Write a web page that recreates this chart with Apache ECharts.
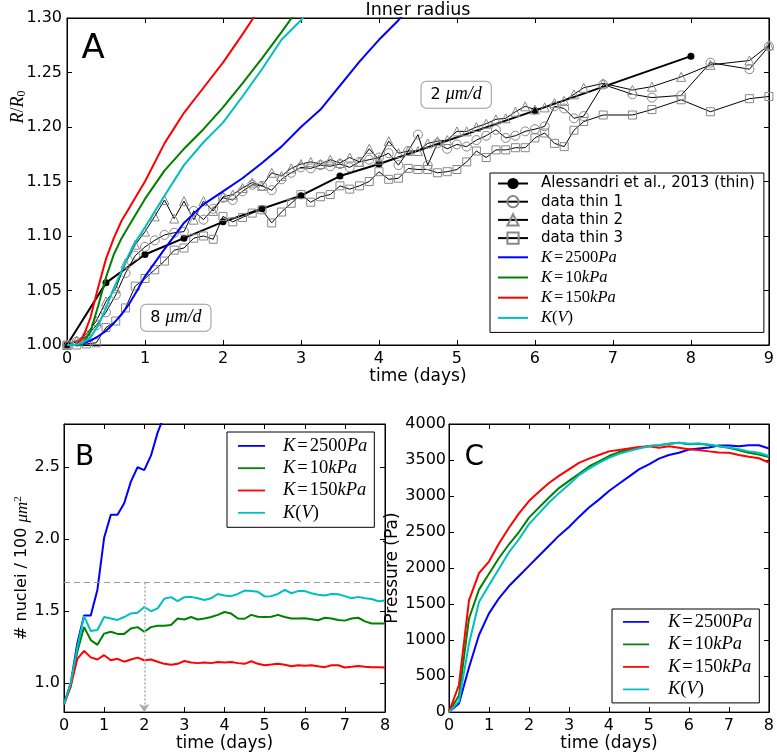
<!DOCTYPE html>
<html><head><meta charset="utf-8">
<script src="https://cdn.jsdelivr.net/npm/echarts/dist/echarts.min.js"></script>
<style>html,body{margin:0;padding:0;background:#fff}#c{width:777px;height:753px}</style>
</head><body><div id="c"></div>
<script>
// ---------- DATA ----------
// Panel A: Alessandri et al. 2013 (thin)
const alessT = [0, 0.5, 1, 1.5, 2, 2.5, 3, 3.5, 4, 6, 8];
const alessV = [1.000, 1.057, 1.083, 1.098, 1.113, 1.125, 1.137, 1.155, 1.166, 1.215, 1.265];
// Panel A: raw data (thin capsules)
const thinT = [0,0.125,0.25,0.375,0.5,0.625,0.75,0.875,1,1.125,1.25,1.375,1.5,1.625,1.75,1.875,
  2,2.125,2.25,2.375,2.5,2.625,2.75,2.875,3,3.125,3.25,3.375,3.5,3.625,3.75,3.875,
  4,4.125,4.25,4.375,4.5,4.625,4.75,4.875,5,5.125,5.25,5.375,5.5,5.625,5.75,5.875,6,
  6.125,6.25,6.375,6.5,6.625,6.875,7.25,7.5,7.875,8.25,8.75,9];
const thin1 = [1.000,1.003,1.008,1.018,1.030,1.046,1.066,1.082,1.090,1.096,1.101,1.103,1.104,1.123,1.115,1.125,
  1.135,1.133,1.141,1.147,1.146,1.142,1.152,1.158,1.163,1.162,1.165,1.164,1.166,1.163,1.168,1.170,
  1.172,1.176,1.165,1.178,1.193,1.165,1.185,1.180,1.184,1.182,1.188,1.192,1.1975,1.190,1.192,1.196,1.198,
  1.2006,1.219,1.217,1.208,1.210,1.239,1.230,1.227,1.229,1.259,1.253,1.274];
const thin2 = [1.000,1.004,1.010,1.022,1.040,1.052,1.075,1.092,1.104,1.118,1.133,1.116,1.132,1.115,1.132,1.123,
  1.136,1.138,1.144,1.149,1.146,1.158,1.155,1.162,1.166,1.168,1.166,1.170,1.167,1.172,1.168,1.180,
  1.170,1.187,1.176,1.178,1.178,1.185,1.187,1.188,1.196,1.196,1.200,1.203,1.207,1.208,1.214,1.219,1.216,
  1.218,1.222,1.224,1.230,1.236,1.240,1.234,1.237,1.246,1.257,1.261,1.275];
const thin3 = [1.000,1.000,1.001,1.002,1.016,1.022,1.034,1.054,1.061,1.069,1.077,1.087,1.089,1.098,1.100,1.097,
  1.118,1.113,1.117,1.121,1.124,1.112,1.122,1.130,1.138,1.131,1.136,1.138,1.146,1.143,1.146,1.150,
  1.159,1.152,1.153,1.162,1.161,1.161,1.158,1.159,1.161,1.168,1.178,1.172,1.179,1.179,1.181,1.181,1.190,
  1.1945,1.185,1.182,1.197,1.205,1.211,1.211,1.216,1.225,1.214,1.226,1.228];
// Panel A: model curves
const modelT = [0,0.1,0.2,0.3,0.4,0.5,0.6,0.7,0.8,0.9,1.0,1.25,1.5,1.75,2.0,2.25,2.5,2.75,3.0,3.25,3.5,3.75,4.0,4.25,4.5];
const radBlue  = [1.0,1.0,1.001,1.004,1.008,1.013,1.020,1.028,1.038,1.050,1.063,1.088,1.112,1.129,1.141,1.153,1.167,1.182,1.200,1.216,1.238,1.260,1.280,1.298,1.320];
const radGreen = [1.0,1.0,1.001,1.012,1.036,1.062,1.083,1.098,1.110,1.122,1.134,1.160,1.180,1.198,1.218,1.240,1.263,1.287,1.312];
const radRed   = [1.0,1.0,1.006,1.025,1.053,1.079,1.098,1.114,1.126,1.138,1.150,1.185,1.213,1.236,1.259,1.285,1.312];
const radCyan  = [1.0,1.0,1.002,1.007,1.018,1.034,1.052,1.068,1.084,1.097,1.108,1.137,1.165,1.186,1.204,1.228,1.253,1.280,1.298,1.320];
// Panel B: nuclei density
const densT = [0,0.167,0.333,0.5,0.667,0.833,1,1.167,1.333,1.5,1.667,1.833,2,2.167,2.333,2.5,2.667,2.833,
  3,3.167,3.333,3.5,3.667,3.833,4,4.167,4.333,4.5,4.667,4.833,5,5.167,5.333,5.5,5.667,5.833,
  6,6.167,6.333,6.5,6.667,6.833,7,7.167,7.333,7.5,7.667,7.833,8];
const densBlue  = [0.856,1.0,1.28,1.47,1.47,1.65,2.01,2.17,2.17,2.25,2.40,2.50,2.48,2.58,2.74,2.86];
const densGreen = [0.856,0.98,1.22,1.39,1.30,1.267,1.345,1.358,1.343,1.343,1.38,1.39,1.358,1.39,1.40,1.40,1.405,1.45,
  1.443,1.46,1.443,1.45,1.46,1.475,1.495,1.484,1.45,1.448,1.475,1.462,1.46,1.462,1.475,1.46,1.45,1.45,
  1.452,1.445,1.438,1.455,1.45,1.44,1.435,1.45,1.455,1.43,1.415,1.415,1.415];
const densRed   = [0.856,0.98,1.17,1.225,1.18,1.165,1.195,1.16,1.17,1.15,1.165,1.178,1.16,1.165,1.15,1.135,1.128,1.135,
  1.155,1.145,1.14,1.145,1.14,1.148,1.145,1.148,1.14,1.135,1.153,1.135,1.125,1.13,1.135,1.128,1.118,1.125,
  1.122,1.125,1.118,1.112,1.125,1.125,1.11,1.115,1.12,1.115,1.112,1.112,1.11];
const densCyan  = [0.856,1.0,1.25,1.466,1.363,1.37,1.46,1.45,1.44,1.46,1.485,1.49,1.53,1.50,1.52,1.587,1.598,1.57,
  1.598,1.60,1.59,1.578,1.59,1.62,1.61,1.605,1.62,1.644,1.64,1.635,1.603,1.605,1.62,1.648,1.625,1.64,
  1.64,1.625,1.615,1.61,1.62,1.618,1.605,1.59,1.60,1.59,1.585,1.57,1.575];
const refLevelB = 1.7, refTimeB = 2;
// Panel C: pressure
const presT = [0,0.25,0.5,0.75,1,1.25,1.5,1.75,2,2.25,2.5,2.75,3,3.25,3.5,3.75,4,4.25,4.5,4.75,5,5.25,5.5,5.75,6,6.25,6.5,6.75,7,7.25,7.5,7.75,8];
const presBlue  = [0,120,620,1070,1370,1580,1750,1890,2030,2170,2310,2450,2570,2710,2840,2950,3070,3170,3270,3370,3440,3520,3570,3600,3645,3660,3675,3700,3700,3690,3705,3705,3660];
const presGreen = [0,230,1300,1700,1920,2140,2330,2500,2700,2840,2980,3110,3210,3310,3410,3480,3555,3610,3640,3665,3695,3705,3725,3740,3720,3725,3710,3690,3670,3635,3600,3575,3540];
const presRed   = [0,380,1550,1930,2090,2340,2560,2760,2930,3060,3180,3280,3370,3460,3520,3570,3620,3640,3660,3680,3690,3670,3690,3670,3650,3640,3620,3605,3600,3570,3545,3525,3465];
const presCyan  = [0,150,950,1530,1760,1990,2220,2400,2610,2760,2910,3040,3160,3290,3380,3460,3530,3585,3625,3660,3695,3705,3725,3740,3725,3730,3715,3690,3675,3650,3620,3600,3555];
// Annotations (data coords)
const annotTexts = ['2', '8'];
const annotAt = [[4.99, 1.2296], [1.395, 1.025]];

const names = ['Alessandri et al., 2013 (thin)', 'data thin 1', 'data thin 2', 'data thin 3', 'K=2500Pa', 'K=10kPa', 'K=150kPa', 'K(V)'];
const modelNames = names.slice(4);

// ---------- STYLE ----------
const SANS = 'DejaVu Sans', SERIF = 'Liberation Serif';
const COL = ['#0000ff', '#008000', '#ff0000', '#00bfbf'];
const LINE_ICON = 'path://M0,0 L30,0 L30,2 L0,2 Z';

function pairs(ts, vs) { const o = []; for (let i = 0; i < vs.length; i++) if (vs[i] != null) o.push([ts[i], vs[i]]); return o; }

function xAx(g, max, pos, extra) {
  return Object.assign({
    gridIndex: g, type: 'value', min: 0, max: max, interval: 1, position: pos,
    axisLine: { show: true, onZero: false, lineStyle: { color: '#000', width: 1 } },
    axisTick: { show: true, inside: true, length: 5, lineStyle: { color: '#000' } },
    splitLine: { show: false },
    axisLabel: { show: pos === 'bottom', color: '#000', fontFamily: SANS, fontSize: 16, margin: 6 },
    nameTextStyle: { color: '#000', fontFamily: SANS, fontSize: 17 }
  }, extra || {});
}
function yAx(g, pos, extra, labelExtra) {
  const ax = Object.assign({
    gridIndex: g, type: 'value', position: pos,
    axisLine: { show: true, onZero: false, lineStyle: { color: '#000', width: 1 } },
    axisTick: { show: true, inside: true, length: 5, lineStyle: { color: '#000' } },
    splitLine: { show: false },
    nameTextStyle: { color: '#000', fontFamily: SANS, fontSize: 17 }
  }, extra || {});
  ax.axisLabel = Object.assign({ show: pos === 'left', color: '#000', fontFamily: SANS, fontSize: 16, margin: 5 }, labelExtra || {});
  return ax;
}
const bTicks = [1.0, 1.5, 2.0, 2.5];

const mathRich = (fs, lh, pad) => ({
  k0: { fontFamily: SERIF, fontStyle: 'italic', fontSize: fs, lineHeight: lh, padding: [0, 0, 0, pad], color: '#000' },
  k: { fontFamily: SERIF, fontStyle: 'italic', fontSize: fs, lineHeight: lh, color: '#000' },
  n: { fontFamily: SERIF, fontSize: fs, lineHeight: lh, color: '#000' },
  e: { fontFamily: SERIF, fontSize: fs, lineHeight: lh, padding: [0, 2, 0, 2], color: '#000' },
  t: { fontFamily: SANS, fontSize: 15, lineHeight: lh, padding: [0, 0, 0, pad], color: '#000' }
});
const mathName = {
  'K=2500Pa': '{k0|K}{e|=}{n|2500}{k|Pa}',
  'K=10kPa': '{k0|K}{e|=}{n|10}{k|kPa}',
  'K=150kPa': '{k0|K}{e|=}{n|150}{k|kPa}',
  'K(V)': '{k0|K}{n|(}{k|V}{n|)}'
};
const fmt = name => mathName[name] || ('{t|' + name + '}');
const legendItems = list => list.map(n => mathName[n] ? { name: n, icon: LINE_ICON } : { name: n });

function lineSeries(name, xi, data, color, extra) {
  return Object.assign({
    name: name, type: 'line', xAxisIndex: xi, yAxisIndex: xi, data: data,
    symbol: 'none', lineStyle: { color: color, width: 2 }, itemStyle: { color: color },
    clip: true, animation: false, z: 3
  }, extra || {});
}
function thinSeries(name, data, sym, size) {
  return {
    name: name, type: 'line', xAxisIndex: 0, yAxisIndex: 0, data: data, symbol: sym, symbolSize: size,
    showAllSymbol: true, lineStyle: { color: '#000', width: 1 },
    itemStyle: { color: 'rgba(255,255,255,0)', borderColor: '#888', borderWidth: 1 },
    clip: true, animation: false, z: 2
  };
}

const series = [
  lineSeries(names[0], 0, pairs(alessT, alessV), '#000', { symbol: 'circle', symbolSize: 7, showAllSymbol: true, lineStyle: { color: '#000', width: 2 }, z: 2 }),
  thinSeries(names[1], pairs(thinT, thin1), 'circle', 9),
  thinSeries(names[2], pairs(thinT, thin2), 'triangle', 9),
  thinSeries(names[3], pairs(thinT, thin3), 'rect', 8),
  lineSeries(modelNames[0], 0, pairs(modelT, radBlue), COL[0]),
  lineSeries(modelNames[1], 0, pairs(modelT, radGreen), COL[1]),
  lineSeries(modelNames[2], 0, pairs(modelT, radRed), COL[2]),
  lineSeries(modelNames[3], 0, pairs(modelT, radCyan), COL[3], {
    markPoint: {
      silent: true, symbol: 'circle', symbolSize: 0,
      label: { show: true, position: 'inside', backgroundColor: '#fff', borderColor: '#999', borderWidth: 1,
        borderRadius: 5, padding: [3, 9, 3, 9],
        rich: {
          n: { fontFamily: SANS, fontSize: 16, lineHeight: 20, color: '#000' },
          k: { fontFamily: SERIF, fontStyle: 'italic', fontSize: 18, lineHeight: 20, color: '#000' } } },
      data: annotTexts.map((s, i) => ({ coord: annotAt[i], label: { formatter: '{n|' + s + ' }{k|μm/d}' } }))
    }
  }),
  lineSeries(modelNames[0], 2, pairs(densT, densBlue), COL[0], {
    markLine: { silent: true, symbol: 'none', animation: false, label: { show: false },
      lineStyle: { color: '#999', type: [6, 4], width: 1 }, data: [{ yAxis: refLevelB }] }
  }),
  lineSeries(modelNames[1], 2, pairs(densT, densGreen), COL[1], {
    markLine: { silent: true, symbol: ['none', 'arrow'], symbolSize: 8, animation: false, label: { show: false },
      lineStyle: { color: '#aaa', type: [2, 2], width: 1.5 },
      data: [[{ coord: [refTimeB, refLevelB] }, { coord: [refTimeB, 0.8] }]] }
  }),
  lineSeries(modelNames[2], 2, pairs(densT, densRed), COL[2]),
  lineSeries(modelNames[3], 2, pairs(densT, densCyan), COL[3]),
  lineSeries(modelNames[0], 4, pairs(presT, presBlue), COL[0]),
  lineSeries(modelNames[1], 4, pairs(presT, presGreen), COL[1]),
  lineSeries(modelNames[2], 4, pairs(presT, presRed), COL[2]),
  lineSeries(modelNames[3], 4, pairs(presT, presCyan), COL[3])
];

const legendBase = {
  orient: 'vertical', selectedMode: false, backgroundColor: '#fff', borderColor: '#000', borderWidth: 1,
  borderRadius: 0, formatter: fmt, symbolKeepAspect: true
};

const option = {
  animation: false,
  backgroundColor: '#fff',
  grid: [
    { left: 67, top: 18, width: 702, height: 327, show: true, borderColor: '#000', borderWidth: 1, backgroundColor: 'transparent' },
    { left: 64, top: 424, width: 321, height: 291, show: true, borderColor: '#000', borderWidth: 1, backgroundColor: 'transparent' },
    { left: 449, top: 424, width: 321, height: 291, show: true, borderColor: '#000', borderWidth: 1, backgroundColor: 'transparent' }
  ],
  xAxis: [
    xAx(0, 9, 'bottom', { name: 'time (days)', nameLocation: 'middle', nameGap: 23 }),
    xAx(0, 9, 'top'),
    xAx(1, 8, 'bottom', { name: 'time (days)', nameLocation: 'middle', nameGap: 20 }),
    xAx(1, 8, 'top'),
    xAx(2, 8, 'bottom', { name: 'time (days)', nameLocation: 'middle', nameGap: 20 }),
    xAx(2, 8, 'top')
  ],
  yAxis: [
    yAx(0, 'left', { min: 1.0, max: 1.3, interval: 0.05 }, { formatter: v => v.toFixed(2) }),
    yAx(0, 'right', { min: 1.0, max: 1.3, interval: 0.05 }),
    yAx(1, 'left', { min: 0.8, max: 2.8, axisTick: { show: true, inside: true, length: 5, lineStyle: { color: '#000' }, customValues: bTicks },
      name: '{a|# nuclei / 100 }{i|μm}{s|2}', nameLocation: 'middle', nameGap: 31, nameRotate: 90,
      nameTextStyle: { rich: {
        a: { fontFamily: SANS, fontSize: 16, lineHeight: 20, color: '#000' },
        i: { fontFamily: SERIF, fontStyle: 'italic', fontSize: 17, lineHeight: 20, color: '#000' },
        s: { fontFamily: SERIF, fontSize: 11, lineHeight: 12, verticalAlign: 'top', color: '#000' } } } },
      { customValues: bTicks, formatter: v => v.toFixed(1), margin: 4 }),
    yAx(1, 'right', { min: 0.8, max: 2.8, axisTick: { show: true, inside: true, length: 5, lineStyle: { color: '#000' }, customValues: bTicks } }),
    yAx(2, 'left', { min: 0, max: 4000, interval: 500, name: 'Pressure (Pa)', nameLocation: 'middle', nameGap: 47, nameRotate: 90 },
      { margin: 3, formatter: v => String(v) }),
    yAx(2, 'right', { min: 0, max: 4000, interval: 500 })
  ],
  legend: [
    Object.assign({}, legendBase, { left: 490, top: 173, padding: [3, 9, 6, 7], itemWidth: 30, itemHeight: 14, itemGap: 3.2,
      data: legendItems(names), textStyle: { rich: mathRich(16.5, 17, 8) } }),
    Object.assign({}, legendBase, { left: 227, top: 432, padding: [4.4, 7, 5, 11], itemWidth: 27, itemHeight: 14, itemGap: 3.3,
      data: legendItems(modelNames), textStyle: { rich: mathRich(18.5, 20, 13) } }),
    Object.assign({}, legendBase, { left: 612, top: 609, padding: [3.4, 7, 4, 11], itemWidth: 26, itemHeight: 14, itemGap: 3.5,
      data: legendItems(modelNames), textStyle: { rich: mathRich(18.5, 20, 14) } })
  ],
  graphic: [
    { type: 'text', x: 418, y: 10.5, style: { text: 'Inner radius', fontFamily: SANS, fontSize: 17.5, fill: '#000', align: 'center', verticalAlign: 'middle' } },
    { type: 'text', x: 81.5, y: 49, style: { text: 'A', fontFamily: SANS, fontSize: 34, fill: '#000', align: 'left', verticalAlign: 'middle' } },
    { type: 'text', x: 75, y: 458, style: { text: 'B', fontFamily: SANS, fontSize: 28, fill: '#000', align: 'left', verticalAlign: 'middle' } },
    { type: 'text', x: 464.5, y: 458, style: { text: 'C', fontFamily: SANS, fontSize: 28, fill: '#000', align: 'left', verticalAlign: 'middle' } },
    { type: 'text', x: 18, y: 107, rotation: Math.PI / 2, style: {
        text: '{i|R}{n|/}{i|R}{s|0}', align: 'center', verticalAlign: 'middle',
        rich: {
          i: { fontFamily: SERIF, fontStyle: 'italic', fontSize: 18, lineHeight: 20, color: '#000' },
          n: { fontFamily: SERIF, fontSize: 18, lineHeight: 20, color: '#000' },
          s: { fontFamily: SERIF, fontSize: 12, lineHeight: 12, verticalAlign: 'bottom', color: '#000' } } } }
  ],
  series: series
};

const chart = echarts.init(document.getElementById('c'), null, { renderer: 'canvas' });
chart.setOption(option);
</script></body></html>
